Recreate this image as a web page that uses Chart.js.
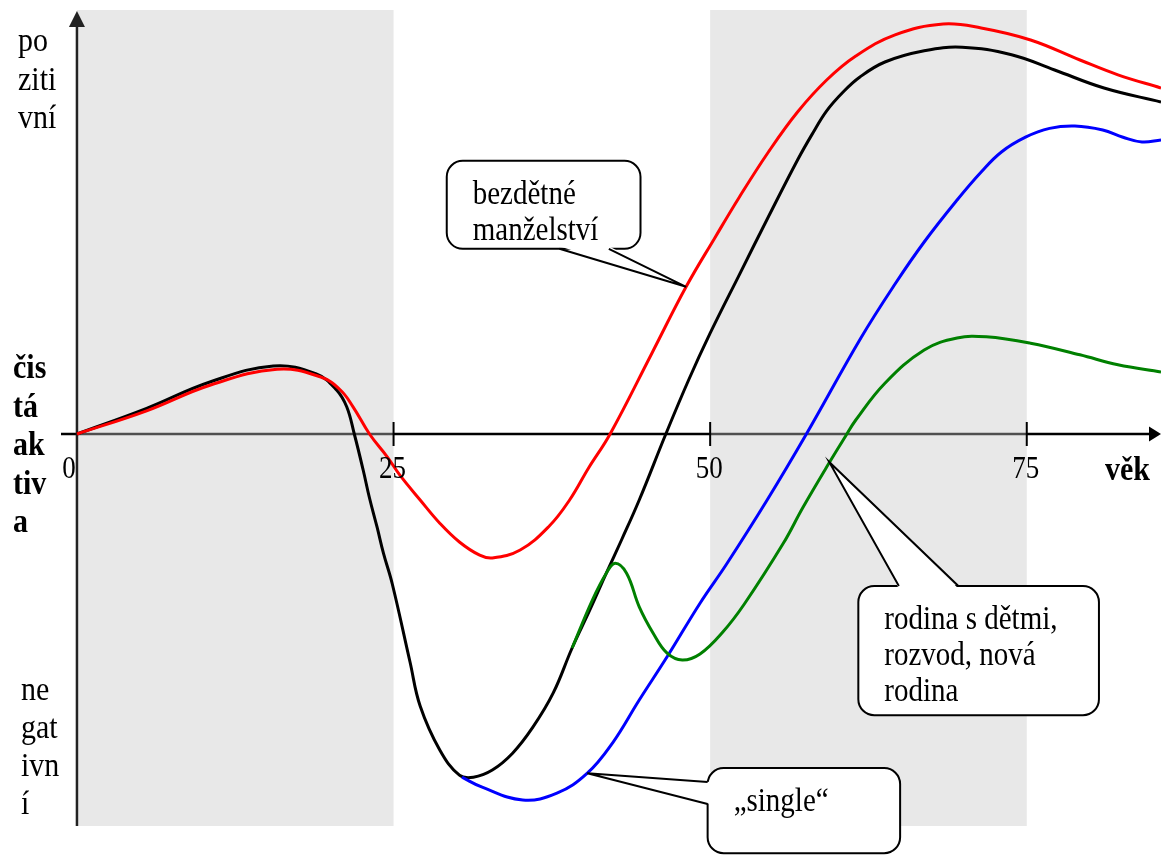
<!DOCTYPE html>
<html>
<head>
<meta charset="utf-8">
<script src="https://cdn.jsdelivr.net/npm/chart.js@4"></script>
<style>
  html, body { margin: 0; padding: 0; background: #fff; }
  #wrap { width: 1161px; height: 855px; position: relative; }
</style>
</head>
<body>
<div id="wrap"><canvas id="lifeChart"></canvas></div>
<script>
// věk (x) a čistá aktiva (y)
var blackAge = [0, 5.5, 10.5, 15.5, 18.9, 20.5, 21.3, 21.9, 22.6, 23.1, 23.7, 24.2, 24.9, 26.3,
  27.1, 28.65, 30.2, 31.3, 32.8, 34.4, 36.0, 37.6, 39.1, 40.5, 41.8, 43.0, 44.4, 46.5, 48.3, 50, 52.3,
  54.6, 56.9, 58.1, 59.2, 60.5, 61.8, 63.8, 66.9, 69.9, 73.8, 77.2, 81.1, 85.6];
var blackVal = [0, 0.64, 1.3, 1.7, 1.5, 1.1, 0.68, 0, -0.9, -1.6, -2.33, -2.98, -3.75, -5.7,
  -6.8, -7.9, -8.53, -8.58, -8.4, -7.98, -7.33, -6.48, -5.35, -4.4, -3.48, -2.65, -1.65, 0, 1.35, 2.52, 3.98,
  5.43, 6.85, 7.52, 8.08, 8.55, 8.92, 9.3, 9.58, 9.67, 9.48, 9.1, 8.65, 8.3];

var redAge = [0, 5.5, 10.5, 15.8, 19.2, 20.8, 21.8, 23.1, 24.5, 25.5, 27.1, 28.65, 30.2, 31.8,
  32.8, 35.0, 37.3, 38.9, 40.4, 42.1, 45.4, 48.1, 50.4, 52.3, 54.6, 56.9, 59.2, 61.5, 64.6,
  68.4, 71.4, 75.3, 79.2, 82.2, 85.6];
var redVal = [0, 0.58, 1.22, 1.62, 1.43, 1.1, 0.68, 0, -0.57, -1.03, -1.65, -2.23, -2.7, -3.03,
  -3.1, -2.9, -2.3, -1.65, -0.85, 0, 2.02, 3.68, 4.92, 5.92, 7.05, 8.05, 8.85, 9.45, 9.98,
  10.25, 10.15, 9.85, 9.35, 8.98, 8.65];

var blueAge = [30.4, 32, 35.2, 37.9, 40.3, 42.3, 44.4, 46.6, 49.2, 51.3, 54.5, 57.6, 61.9, 64.6,
  66.9, 69.5, 71.4, 73.0, 74.9, 76.8, 78.8, 81.0, 82.6, 84.1, 85.6];
var blueVal = [-8.58, -8.83, -9.15, -8.98, -8.48, -7.72, -6.65, -5.57, -4.23, -3.25, -1.65, 0, 2.4, 3.75,
  4.8, 5.85, 6.55, 7.05, 7.42, 7.64, 7.7, 7.6, 7.42, 7.3, 7.35];

var greenAge = [39.1, 40.7, 41.8, 42.5, 43.4, 44.4, 45.5, 46.6, 47.8, 49.2, 51.0, 52.7, 55.8, 57.3, 59.4,
  60.7, 61.5, 63.8, 66.9, 69.5, 71.8, 75.3, 79.2, 82.2, 85.6];
var greenVal = [-5.35, -4.15, -3.48, -3.23, -3.48, -4.32, -4.98, -5.48, -5.65, -5.5, -4.95, -4.25, -2.72, -1.85, -0.72,
  -0.05, 0.35, 1.27, 2.1, 2.4, 2.43, 2.27, 1.98, 1.73, 1.55];

var tickAges = [0, 25, 50, 75];
var shadedRanges = [[0, 25], [50, 75]];

var topLabel = ['po', 'ziti', 'vní'];
var midLabel = ['čis', 'tá', 'ak', 'tiv', 'a'];
var lowLabel = ['ne', 'gat', 'ivn', 'í'];

// bubliny: text, rámeček [x1, yHorni, x2, yDolni], špička, základna ukazatele (v datových souřadnicích)
var callouts = [
  { lines: ['bezdětné', 'manželství'], box: [29.2, 6.83, 44.5, 4.63], tip: [48.1, 3.68], base: [[38.1, 4.63], [42.0, 4.63]] },
  { lines: ['rodina s dětmi,', 'rozvod, nová', 'rodina'], box: [61.7, -3.8, 80.7, -7.03], tip: [59.4, -0.7], base: [[64.9, -3.8], [69.6, -3.8]] },
  { lines: ['\u201Esingle\u201C'], box: [49.8, -8.35, 65.0, -10.48], tip: [40.3, -8.48], base: [[49.8, -8.7], [49.8, -9.25]] }
];

function toPoints(xs, ys) {
  return xs.map(function(v, i) { return { x: v, y: ys[i] }; });
}

var SERIF = '"Liberation Serif", "Times New Roman", serif';
var STRETCH = 1.15;

function drawText(ctx, text, x, y, font, align) {
  ctx.save();
  ctx.font = font;
  ctx.textAlign = align || 'left';
  ctx.textBaseline = 'alphabetic';
  ctx.translate(x, y);
  ctx.scale(1, STRETCH);
  ctx.fillText(text, 0, 0);
  ctx.restore();
}

function roundedRect(ctx, x, y, w, h, r) {
  ctx.beginPath();
  ctx.moveTo(x + r, y);
  ctx.lineTo(x + w - r, y);
  ctx.arcTo(x + w, y, x + w, y + r, r);
  ctx.lineTo(x + w, y + h - r);
  ctx.arcTo(x + w, y + h, x + w - r, y + h, r);
  ctx.lineTo(x + r, y + h);
  ctx.arcTo(x, y + h, x, y + h - r, r);
  ctx.lineTo(x, y + r);
  ctx.arcTo(x, y, x + r, y, r);
  ctx.closePath();
}

// osy, šedé pásy
var backdrop = {
  id: 'backdrop',
  beforeDatasetsDraw: function(chart) {
    var ctx = chart.ctx, a = chart.chartArea;
    var xs = chart.scales.x, ys = chart.scales.y;
    var y0 = ys.getPixelForValue(0);
    var x0 = xs.getPixelForValue(0);
    ctx.save();
    // vodorovná osa
    ctx.strokeStyle = '#000';
    ctx.lineWidth = 2.5;
    ctx.beginPath();
    ctx.moveTo(a.left, y0);
    ctx.lineTo(a.right - 10, y0);
    ctx.stroke();
    ctx.fillStyle = '#000';
    ctx.beginPath();
    ctx.moveTo(a.right, y0);
    ctx.lineTo(a.right - 12, y0 - 7.5);
    ctx.lineTo(a.right - 12, y0 + 7.5);
    ctx.closePath();
    ctx.fill();
    // šedé pásy
    ctx.fillStyle = 'rgba(198,198,198,0.4)';
    shadedRanges.forEach(function(r) {
      var p1 = xs.getPixelForValue(r[0]), p2 = xs.getPixelForValue(r[1]);
      ctx.fillRect(p1, a.top, p2 - p1, a.bottom - a.top);
    });
    // svislá osa
    ctx.strokeStyle = '#222';
    ctx.lineWidth = 2.5;
    ctx.beginPath();
    ctx.moveTo(x0, a.bottom);
    ctx.lineTo(x0, a.top + 12);
    ctx.stroke();
    ctx.fillStyle = '#222';
    ctx.beginPath();
    ctx.moveTo(x0, a.top + 1);
    ctx.lineTo(x0 - 8, a.top + 17);
    ctx.lineTo(x0 + 8, a.top + 17);
    ctx.closePath();
    ctx.fill();
    // značky
    ctx.strokeStyle = '#000';
    ctx.lineWidth = 2;
    tickAges.forEach(function(v) {
      if (v === 0) return;
      var px = xs.getPixelForValue(v);
      ctx.beginPath();
      ctx.moveTo(px, y0 - 12);
      ctx.lineTo(px, y0 + 12);
      ctx.stroke();
    });
    ctx.restore();
  },
  afterDatasetsDraw: function(chart) {
    var ctx = chart.ctx;
    var xs = chart.scales.x, ys = chart.scales.y;
    var y0 = ys.getPixelForValue(0);
    ctx.save();
    ctx.fillStyle = '#000';
    // popisky osy x
    tickAges.forEach(function(v) {
      var px = xs.getPixelForValue(v) + (v === 0 ? -8 : -1);
      drawText(ctx, String(v), px, y0 + 44, '27px ' + SERIF, 'center');
    });
    drawText(ctx, 'věk', 1105, y0 + 46, 'bold 30px ' + SERIF, 'left');
    // popisky osy y
    topLabel.forEach(function(t, i) { drawText(ctx, t, 18, 51 + i * 38.5, '30px ' + SERIF); });
    midLabel.forEach(function(t, i) { drawText(ctx, t, 13, y0 - 56 + i * 38.5, 'bold 30px ' + SERIF); });
    lowLabel.forEach(function(t, i) { drawText(ctx, t, 21, 700 + i * 38, '30px ' + SERIF); });

    // bubliny
    callouts.forEach(function(c) {
      var bx1 = xs.getPixelForValue(c.box[0]), by1 = ys.getPixelForValue(c.box[1]);
      var bx2 = xs.getPixelForValue(c.box[2]), by2 = ys.getPixelForValue(c.box[3]);
      var tx = xs.getPixelForValue(c.tip[0]), ty = ys.getPixelForValue(c.tip[1]);
      var b = c.base.map(function(p) { return [xs.getPixelForValue(p[0]), ys.getPixelForValue(p[1])]; });
      ctx.lineWidth = 2;
      ctx.strokeStyle = '#000';
      ctx.fillStyle = '#fff';
      roundedRect(ctx, bx1, by1, bx2 - bx1, by2 - by1, 16);
      ctx.fill();
      ctx.stroke();
      // posun dovnitř rámečku, aby ukazatel přerušil okraj
      var cx = (bx1 + bx2) / 2, cy = (by1 + by2) / 2;
      var dx = 0, dy = 0;
      if (Math.abs(b[0][1] - b[1][1]) < 0.5) dy = (cy > b[0][1] ? 2.5 : -2.5);
      else dx = (cx > b[0][0] ? 2.5 : -2.5);
      ctx.beginPath();
      ctx.moveTo(b[0][0] + dx, b[0][1] + dy);
      ctx.lineTo(tx, ty);
      ctx.lineTo(b[1][0] + dx, b[1][1] + dy);
      ctx.closePath();
      ctx.fill();
      ctx.beginPath();
      ctx.moveTo(b[0][0], b[0][1]);
      ctx.lineTo(tx, ty);
      ctx.lineTo(b[1][0], b[1][1]);
      ctx.stroke();
      ctx.fillStyle = '#000';
      c.lines.forEach(function(t, i) {
        drawText(ctx, t, bx1 + 26, by1 + 43 + i * 36, '29px ' + SERIF);
      });
    });
    ctx.restore();
  }
};

function series(label, xs, ys, color, order) {
  return {
    label: label,
    data: toPoints(xs, ys),
    borderColor: color,
    borderWidth: 3,
    pointRadius: 0,
    tension: 0.4,
    fill: false,
    order: order
  };
}

var ctx = document.getElementById('lifeChart').getContext('2d');
new Chart(ctx, {
  type: 'line',
  data: {
    datasets: [
      series('rodina s dětmi, rozvod, nová rodina', greenAge, greenVal, '#008000', 1),
      series('single', blueAge, blueVal, '#0000ff', 2),
      series('bezdětné manželství', redAge, redVal, '#ff0000', 3),
      series('rodina', blackAge, blackVal, '#000000', 4)
    ]
  },
  options: {
    responsive: true,
    maintainAspectRatio: false,
    animation: false,
    events: [],
    layout: { padding: { left: 61, right: 0, top: 10, bottom: 29 } },
    scales: {
      x: { type: 'linear', min: -1.26, max: 85.6, display: false },
      y: { type: 'linear', min: -9.8, max: 10.6, display: false }
    },
    plugins: {
      legend: { display: false },
      tooltip: { enabled: false }
    }
  },
  plugins: [backdrop]
});
</script>
</body>
</html>
